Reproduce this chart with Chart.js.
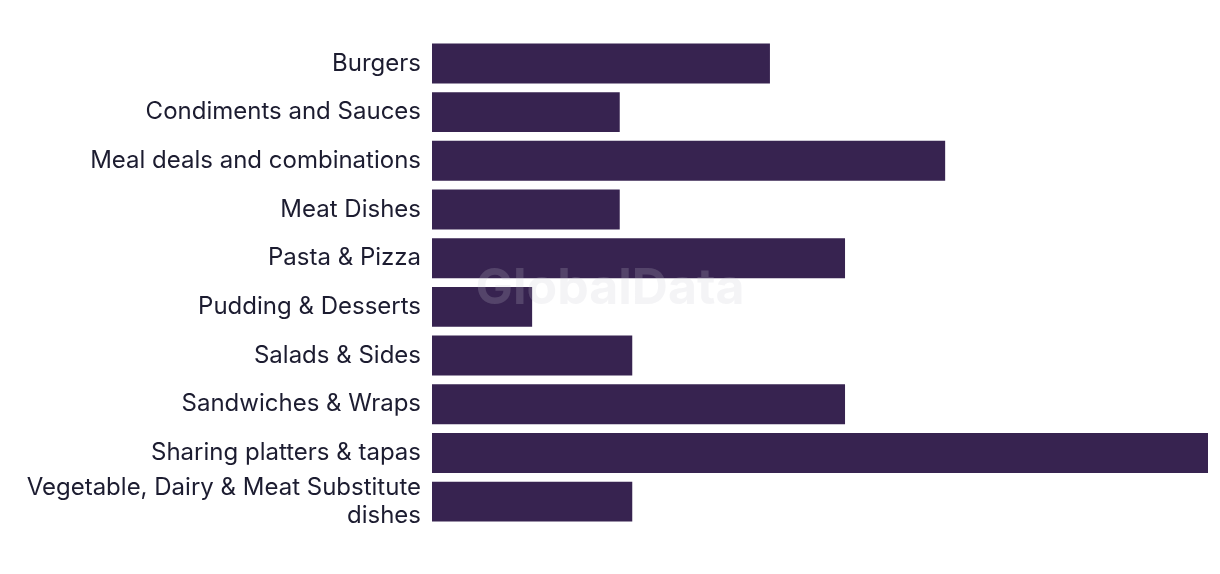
<!DOCTYPE html>
<html>
<head>
<meta charset="utf-8">
<script src="https://cdn.jsdelivr.net/npm/chart.js@4"></script>
<style>
  html, body { margin: 0; padding: 0; background: #ffffff; }
  #wrap { position: relative; width: 1220px; height: 574px; }
</style>
</head>
<body>
<div id="wrap"><canvas id="c" width="1220" height="574"></canvas></div>
<script>
const categories = [
  "Burgers",
  "Condiments and Sauces",
  "Meal deals and combinations",
  "Meat Dishes",
  "Pasta & Pizza",
  "Pudding & Desserts",
  "Salads & Sides",
  "Sandwiches & Wraps",
  "Sharing platters & tapas",
  ["Vegetable, Dairy & Meat Substitute", "dishes"]
];
const values = [27, 15, 41, 15, 33, 8, 16, 33, 62, 16];

const watermark = {
  id: 'watermark',
  afterDatasetsDraw(chart) {
    const ctx = chart.ctx;
    ctx.save();
    ctx.font = 'bold 50px Inter, "Liberation Sans", sans-serif';
    ctx.fillStyle = 'rgba(200,200,212,0.2)';
    ctx.textAlign = 'center';
    ctx.textBaseline = 'middle';
    ctx.fillText('GlobalData', 610, 289);
    ctx.restore();
  }
};

new Chart(document.getElementById('c'), {
  type: 'bar',
  data: {
    labels: categories,
    datasets: [{
      data: values,
      backgroundColor: '#372350',
      borderWidth: 0,
      categoryPercentage: 0.82,
      barPercentage: 1
    }]
  },
  options: {
    indexAxis: 'y',
    responsive: false,
    animation: false,
    layout: { padding: { left: 0, right: 12, top: 38, bottom: 48 } },
    plugins: { legend: { display: false }, tooltip: { enabled: false } },
    scales: {
      x: { display: false, min: 0, max: 62 },
      y: {
        grid: { display: false, drawTicks: false },
        border: { display: false },
        afterFit(scale) { scale.width = 432; },
        ticks: {
          autoSkip: false,
          padding: 11,
          color: '#1c1c30',
          font: { family: 'Inter, "Liberation Sans", sans-serif', size: 24, lineHeight: 1.17 }
        }
      }
    }
  },
  plugins: [watermark]
});
</script>
</body>
</html>
